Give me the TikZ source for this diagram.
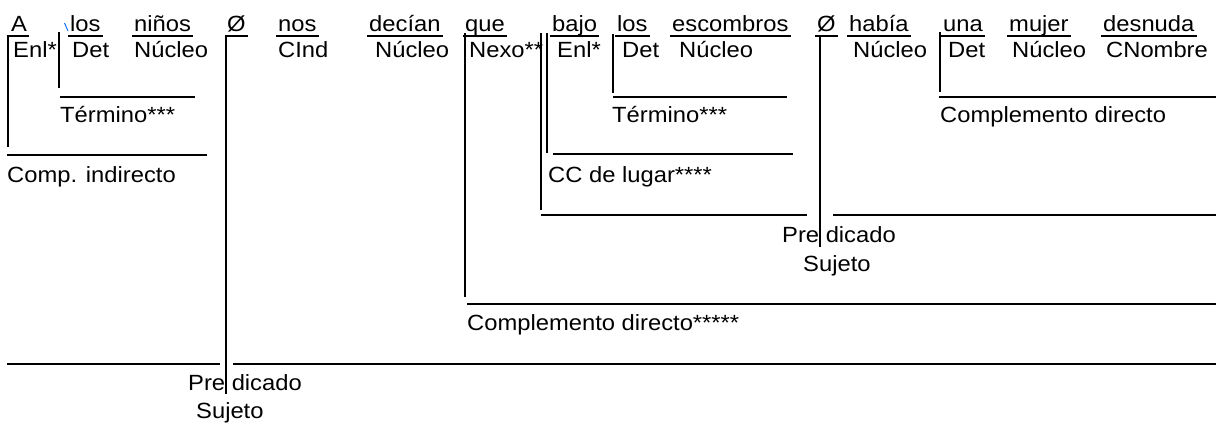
\documentclass[tikz,border=0pt]{standalone}
\usepackage{fontspec}
\setmainfont{Liberation Sans}[FakeStretch=1.08]
\begin{document}
\begin{tikzpicture}[x=1pt,y=-1pt,
  word/.style={anchor=base west,inner sep=0pt,font=\fontsize{22}{26}\selectfont},
  rule/.style={line width=1.1pt,black},
  uline/.style={line width=1.2pt,black}]
\useasboundingbox (0,0) rectangle (1216,424);
% row 1: words
\foreach \n/\x/\t in {w1/11/A,w2/70/los,w3/134/niños,w4/227/Ø,w5/278/nos,w6/369/decían,w7/465/que,w8/552/bajo,w9/617/los,w10/672/escombros,w11/817/Ø,w12/849/había,w13/943/una,w14/1009/mujer,w15/1103/desnuda}{
  \node[word] (\n) at (\x,31) {\t};
  \draw[uline] ([xshift=-2pt,yshift=-5pt]\n.base west) -- ([xshift=2pt,yshift=-5pt]\n.base east);
}
% stray blue mark
\draw[line width=0.9pt,color=blue!60!cyan] (64.5,23) -- (68,31);
% row 2: functions
\foreach \n/\x/\t in {f1/13/Enl*,f2/72/Det,f3/134/Núcleo,f4/278/CInd,f5/375/Núcleo,f6/469/Nexo**,f7/557/Enl*,f8/622/Det,f9/679/Núcleo,f10/853/Núcleo,f11/948/Det,f12/1012/Núcleo,f13/1106/CNombre}{
  \node[word] (\n) at (\x,57) {\t};
}
% vertical bars
\draw[rule] (8,35) -- (8,147);
\draw[rule] (59,32) -- (59,88);
\draw[rule] (226,37) -- (226,394);
\draw[rule] (465,33) -- (465,297);
\draw[rule] (541,33) -- (541,210);
\draw[rule] (547,33) -- (547,153);
\draw[rule] (613,34) -- (613,93);
\draw[rule] (820,37) -- (820,247);
\draw[rule] (940,32) -- (940,92);
% horizontal lines
\draw[rule] (60,97) -- (195,97);
\draw[rule] (7,155) -- (207,155);
\draw[rule] (613,97) -- (787,97);
\draw[rule] (553,154) -- (793,154);
\draw[rule] (939,97) -- (1216,97);
\draw[rule] (541,215) -- (807,215);
\draw[rule] (833,215) -- (1216,215);
\draw[rule] (467,304) -- (1216,304);
\draw[rule] (7,364) -- (220,364);
\draw[rule] (233,364) -- (1216,364);
% labels
\node[word] (t1) at (60,122) {Término***};
\node[word] (ci) at (7,182) {Comp. indirecto};
\node[word] (t2) at (612,122) {Término***};
\node[word] (cc) at (548,182) {CC de lugar****};
\node[word] (cd1) at (940,122) {Complemento directo};
\node[word] (p2) at (782,242) {Pre dicado};
\node[word] (s2) at (803,271) {Sujeto};
\node[word] (cd2) at (467,330) {Complemento directo*****};
\node[word] (p1) at (188,390) {Pre dicado};
\node[word] (s1) at (196,418) {Sujeto};
\end{tikzpicture}
\end{document}
